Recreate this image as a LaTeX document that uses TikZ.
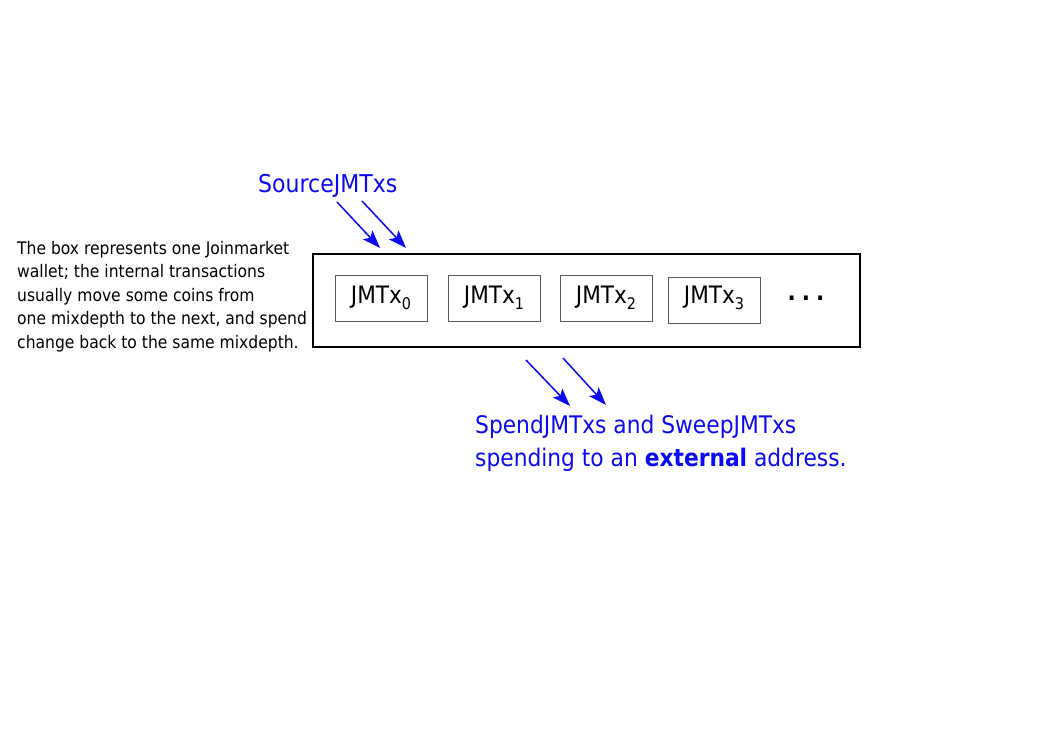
\documentclass[tikz,border=0pt]{standalone}
\usepackage{fontspec}
\setmainfont{DejaVu Sans Condensed}
\usetikzlibrary{arrows.meta}
\definecolor{jmblue}{RGB}{10,10,245}
\newcommand{\sbs}[1]{\raisebox{-6pt}{\fontsize{16}{16}\selectfont #1}}
\tikzset{
  txbox/.style={draw=black!65, line width=0.9pt, minimum width=92pt, minimum height=46pt, inner sep=0pt, text height=18pt, text depth=8pt, font=\fontsize{24}{26}\selectfont},
  bluearrow/.style={draw=jmblue, line width=1.5pt, -{Stealth[length=18pt,width=13pt,inset=4pt]}},
  bluetext/.style={text=jmblue, inner sep=0pt, anchor=base west, align=left}
}
\begin{document}
\begin{tikzpicture}[x=1pt,y=-1pt]
\useasboundingbox[fill=white] (0,0) rectangle (1053,745);
% wallet box
\node[draw=black, line width=2pt, minimum width=547pt, minimum height=93pt, inner sep=0pt] (wallet) at (586.5,300.5) {};
\node[txbox] (tx0) at (381,298) {JMTx\sbs{0}};
\node[txbox] (tx1) at (494,298.5) {JMTx\sbs{1}};
\node[txbox] (tx2) at (606,298.5) {JMTx\sbs{2}};
\node[txbox] (tx3) at (714,300) {\raisebox{2pt}{JMTx\sbs{3}}};
\node[inner sep=0pt, font=\fontsize{24}{24}\bfseries\selectfont] (dots) at (806,298) {.\hspace{6pt}.\hspace{6pt}.};
% description
\node[inner sep=0pt, anchor=base west, align=left, font=\fontsize{17.3}{23.4}\selectfont] (desc) at (17,348)
 {The box represents one Joinmarket\\wallet; the internal transactions\\usually move some coins from\\one mixdepth to the next, and spend\\change back to the same mixdepth.};
% source
\node[bluetext, font=\fontsize{24.5}{30}\selectfont] (source) at (258,192.5) {SourceJMTxs};
\coordinate (s1a) at (337,202); \coordinate (s1b) at (380,248);
\coordinate (s2a) at (362,201); \coordinate (s2b) at (406,248);
\draw[bluearrow] (s1a) -- (s1b);
\draw[bluearrow] (s2a) -- (s2b);
% spend
\coordinate (p1a) at (526,360); \coordinate (p1b) at (570,406);
\coordinate (p2a) at (563,358); \coordinate (p2b) at (606,405);
\draw[bluearrow] (p1a) -- (p1b);
\draw[bluearrow] (p2a) -- (p2b);
\node[bluetext, font=\fontsize{24.2}{33}\selectfont] (spend) at (475,466.5) {SpendJMTxs and SweepJMTxs\\spending to an \textbf{external} address.};
\end{tikzpicture}
\end{document}
